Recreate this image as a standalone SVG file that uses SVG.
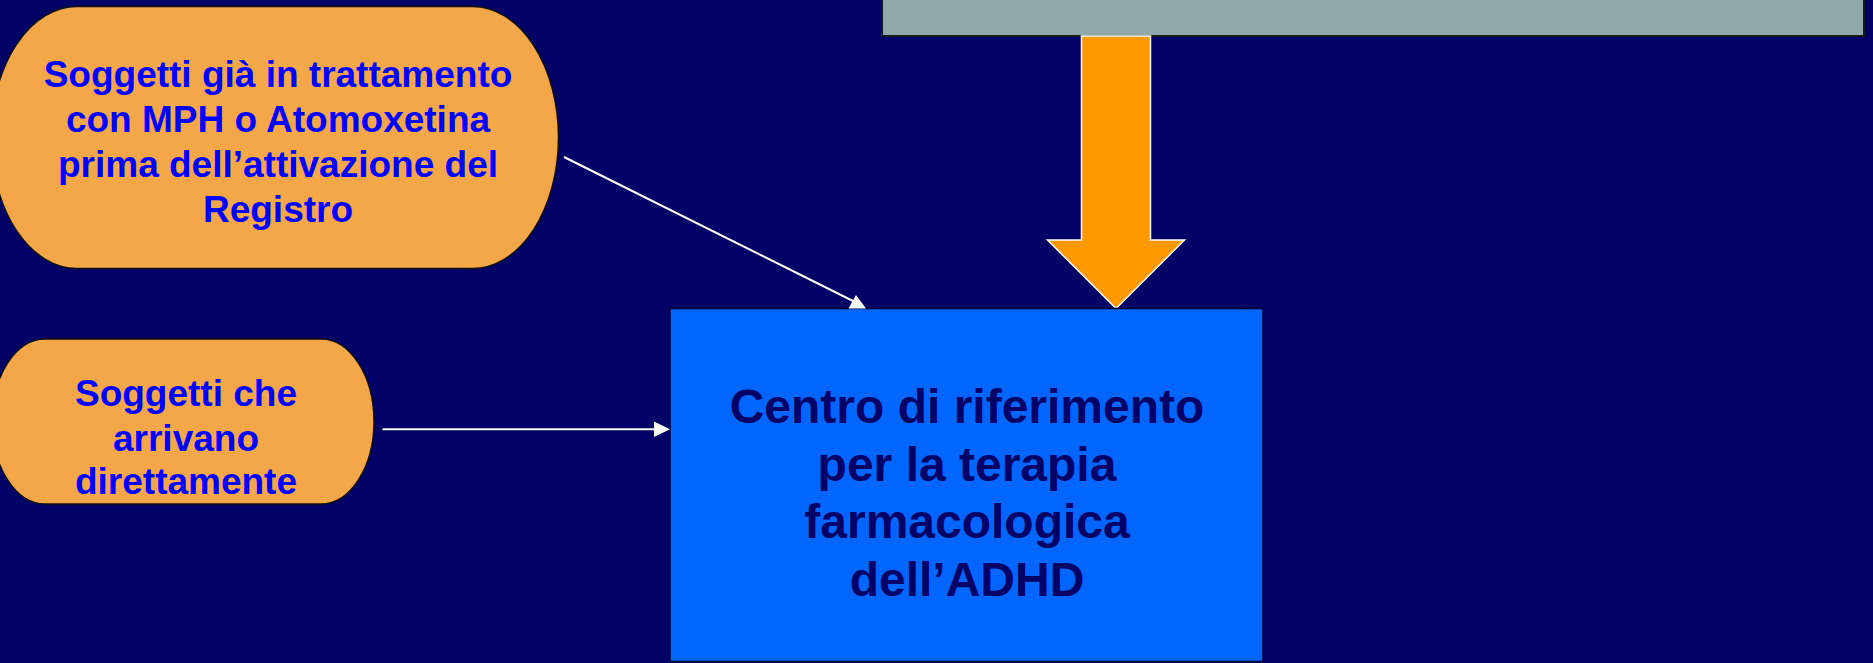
<svg xmlns="http://www.w3.org/2000/svg" width="1873" height="663" viewBox="0 0 1873 663">
  <defs>
    <style>
      .bg { fill: #000066; }
      .oval { fill: #f4a748; stroke: #111111; stroke-width: 1.5; }
      .otext { font-family: "Liberation Sans", Arial, sans-serif; font-weight: bold; font-size: 37px; fill: #0000ff; text-anchor: middle; }
      .ctext { font-family: "Liberation Sans", Arial, sans-serif; font-weight: bold; font-size: 48px; fill: #000066; text-anchor: middle; }
      .conn { stroke: #ffffff; stroke-width: 2; fill: none; }
      .head { fill: #ffffff; stroke: none; }
    </style>
  </defs>
  <rect class="bg" x="0" y="0" width="1873" height="663"/>

  <g id="grey-box">
    <rect x="882" y="-20" width="982" height="56" fill="#8fa9aa" stroke="#111a1a" stroke-width="2"/>
  </g>

  <g id="block-arrow">
    <polygon points="1081.5,36 1150.5,36 1150.5,240 1184.5,240 1116,308.5 1047.5,240 1081.5,240" fill="#ff9900" stroke="#ffffff" stroke-width="1.5"/>
  </g>

  <g id="node-gia-in-trattamento">
    <rect class="oval" x="-9" y="6.5" width="567.5" height="262" rx="86" ry="131"/>
    <text class="otext" x="278" y="87">Soggetti già in trattamento</text>
    <text class="otext" x="278" y="132">con MPH o Atomoxetina</text>
    <text class="otext" x="278" y="177">prima dell’attivazione del</text>
    <text class="otext" x="278" y="222">Registro</text>
  </g>

  <g id="node-diretti">
    <rect class="oval" x="-8" y="339" width="382" height="165" rx="53" ry="82.5"/>
    <text class="otext" x="186" y="406">Soggetti che</text>
    <text class="otext" x="186" y="450.5">arrivano</text>
    <text class="otext" x="186" y="494">direttamente</text>
  </g>

  <g id="node-centro">
    <rect x="670" y="308.5" width="593" height="353" fill="#0066ff" stroke="#000033" stroke-width="1.5"/>
    <text class="ctext" x="967" y="423">Centro di riferimento</text>
    <text class="ctext" x="967" y="481">per la terapia</text>
    <text class="ctext" x="967" y="538">farmacologica</text>
    <text class="ctext" x="967" y="596">dell’ADHD</text>
  </g>

  <g id="connectors">
    <line class="conn" x1="564" y1="157" x2="855" y2="302"/>
    <polygon class="head" points="856,295 848.5,308.5 866,308.5"/>
    <line class="conn" x1="382.5" y1="429.3" x2="656" y2="429.3"/>
    <polygon class="head" points="654,421.5 670,429.3 654,437"/>
  </g>
</svg>
